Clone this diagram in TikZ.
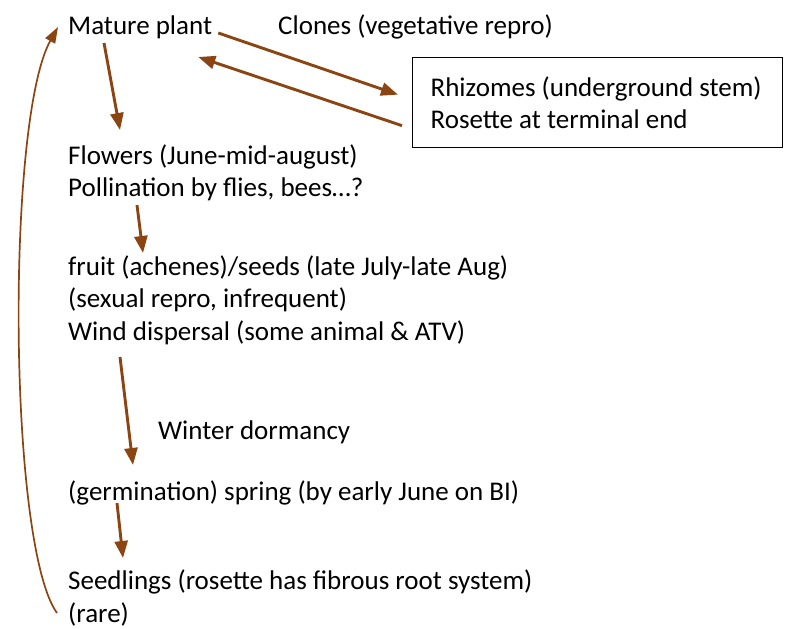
\documentclass[tikz,border=0pt]{standalone}
\usepackage{fontspec}
\setmainfont{Carlito}
\usepackage{tikz}
\usetikzlibrary{arrows.meta,calc}
\definecolor{StemBrown}{HTML}{8A4513}

\tikzset{
  stage/.style={anchor=west,inner sep=0pt,align=left,font=\fontsize{27}{32.5}\selectfont},
  flow/.style={StemBrown,line width=2.9pt,-{Triangle[length=17pt,width=13pt]}},
  loopback/.style={StemBrown,line width=1.7pt,-{Triangle[length=16pt,width=11pt]}}
}

\begin{document}
\begin{tikzpicture}[x=1pt,y=-1pt]
  \useasboundingbox (0,0) rectangle (795,629);
  % life cycle stages
  \node[stage] (mature) at (68,27) {Mature plant};
  \node[stage] (clones) at (278,27) {Clones (vegetative repro)};
  \node[draw,line width=1.3pt,rectangle,anchor=north west,minimum width=370pt,minimum height=90pt,
        text width=334pt,inner xsep=18pt,inner ysep=0pt,align=flush left,
        font=\fontsize{27}{32.5}\selectfont] (rhizome) at (412,57)
        {Rhizomes (underground stem)\\Rosette at terminal end};
  \node[stage] (flowers) at (68,173) {Flowers (June-mid-august)\\Pollination by flies, bees\dots?};
  \node[stage] (fruit) at (68,300) {fruit (achenes)/seeds (late July-late Aug)\\(sexual repro, infrequent)\\Wind dispersal (some animal \& ATV)};
  \node[stage] (winter) at (158,432) {Winter dormancy};
  \node[stage] (germ) at (68,493) {(germination) spring (by early June on BI)};
  \node[stage] (seedlings) at (68,598) {Seedlings (rosette has fibrous root system)\\(rare)};

  % arrows
  \draw[flow] ($(mature.west)+(36,16)$) -- ($(flowers.west)+(52,-43)$);
  \draw[flow] ($(mature.east)+(6,6)$) -- ($(rhizome.west)+(-14,-8)$);
  \draw[flow] ($(rhizome.west)+(-10,23)$) -- ($(mature.east)+(-14,30)$);
  \draw[flow] ($(flowers.west)+(69,32)$) -- ($(fruit.west)+(75,-47)$);
  \draw[flow] ($(fruit.west)+(52,57)$) -- ($(germ.west)+(65,-28)$);
  \draw[flow] ($(germ.west)+(49,10)$) -- ($(seedlings.west)+(55,-40)$);
  \draw[loopback] ($(seedlings.west)+(-11,15)$) .. controls (8,545) and (6,120) .. ($(mature.west)+(-10,0)$);
\end{tikzpicture}
\end{document}
